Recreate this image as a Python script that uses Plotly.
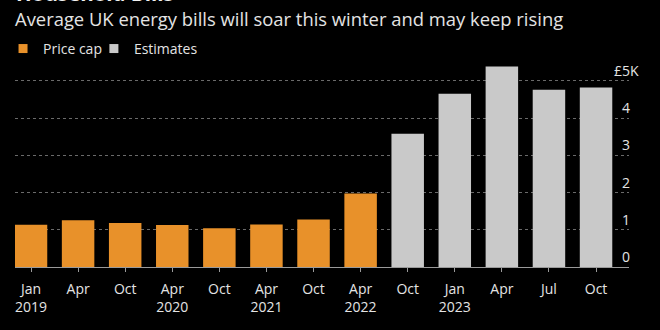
import plotly.graph_objects as go

# Average annual household energy bill, £ thousands
cap_periods = ["Jan 2019", "Apr 2019", "Oct 2019", "Apr 2020", "Oct 2020",
               "Apr 2021", "Oct 2021", "Apr 2022"]
cap_values = [1.137, 1.254, 1.179, 1.126, 1.042, 1.138, 1.277, 1.971]

est_periods = ["Oct 2022", "Jan 2023", "Apr 2023", "Jul 2023", "Oct 2023"]
est_values = [3.58, 4.65, 5.386, 4.76, 4.82]

tick_text = ["Jan<br>2019", "Apr", "Oct", "Apr<br>2020", "Oct", "Apr<br>2021",
             "Oct", "Apr<br>2022", "Oct", "Jan<br>2023", "Apr", "Jul", "Oct"]

y_ticks = [0, 1, 2, 3, 4, 5]
y_tick_text = ["\u20070", "\u20071", "\u20072", "\u20073", "\u20074", "£5K"]

ORANGE = "#E8912A"
GREY = "#C9C9C9"
TEXT = "#E4E4E4"
FONT = "Open Sans, Noto Sans, sans-serif"

fig = go.Figure()
fig.add_trace(go.Bar(x=cap_periods, y=cap_values, marker_color=ORANGE,
                     marker_line_width=0, width=0.69, showlegend=False))
fig.add_trace(go.Bar(x=est_periods, y=est_values, marker_color=GREY,
                     marker_line_width=0, width=0.69, showlegend=False))

# legend swatches, one legend box per series
fig.add_trace(go.Scatter(x=[None], y=[None], mode="markers", name="Price cap",
                         legend="legend",
                         marker=dict(symbol="square", size=9, color=ORANGE)))
fig.add_trace(go.Scatter(x=[None], y=[None], mode="markers", name="Estimates",
                         legend="legend2",
                         marker=dict(symbol="square", size=9, color=GREY)))

all_periods = cap_periods + est_periods

legend_style = dict(orientation="h", xanchor="left", y=1.153, yanchor="top",
                    font=dict(size=14, color=TEXT), bgcolor="rgba(0,0,0,0)",
                    itemclick=False)

fig.update_layout(
    width=660, height=330,
    margin=dict(l=15, r=31, t=64, b=63, autoexpand=False),
    paper_bgcolor="black", plot_bgcolor="black",
    font=dict(family=FONT, color=TEXT, size=14),
    barmode="overlay",
    legend=dict(x=-0.0195, **legend_style),
    legend2=dict(x=0.1285, **legend_style),
    xaxis=dict(type="category", categoryorder="array", categoryarray=all_periods,
               range=[-0.34, 12.7], tickmode="array", tickvals=all_periods,
               ticktext=tick_text, ticks="outside", ticklen=4, tickcolor="#9A9A9A",
               showline=True, linecolor="#9A9A9A", linewidth=1, showgrid=False,
               tickfont=dict(size=14, color=TEXT), ticklabelstandoff=5),
    yaxis=dict(range=[0, 5.45], side="right", tickmode="array", tickvals=y_ticks,
               ticktext=y_tick_text, ticklabelposition="outside top",
               ticklabelstandoff=-16, showgrid=True, gridcolor="#6A6A6A",
               griddash="dot", gridwidth=1, zeroline=False, showline=False,
               ticks="", tickfont=dict(size=14, color=TEXT)),
    annotations=[
        dict(text="<b>Household Bills</b>", xref="paper", yref="paper",
             x=-0.002, y=1.349, xanchor="left", yanchor="middle", showarrow=False,
             font=dict(size=20.5, color="#F2F2F2", family=FONT)),
        dict(text="Average UK energy bills will soar this winter and may keep rising",
             xref="paper", yref="paper", x=-0.004, y=1.222, xanchor="left",
             yanchor="middle", showarrow=False,
             font=dict(size=18.4, color=TEXT, family=FONT)),
        dict(text="Source: Ofgem, Cornwall Insight", xref="paper", yref="paper",
             x=-0.003, y=-0.322, xanchor="left", yanchor="top", showarrow=False,
             font=dict(size=14, color=TEXT, family=FONT)),
    ],
)

fig.write_html("out.html")
